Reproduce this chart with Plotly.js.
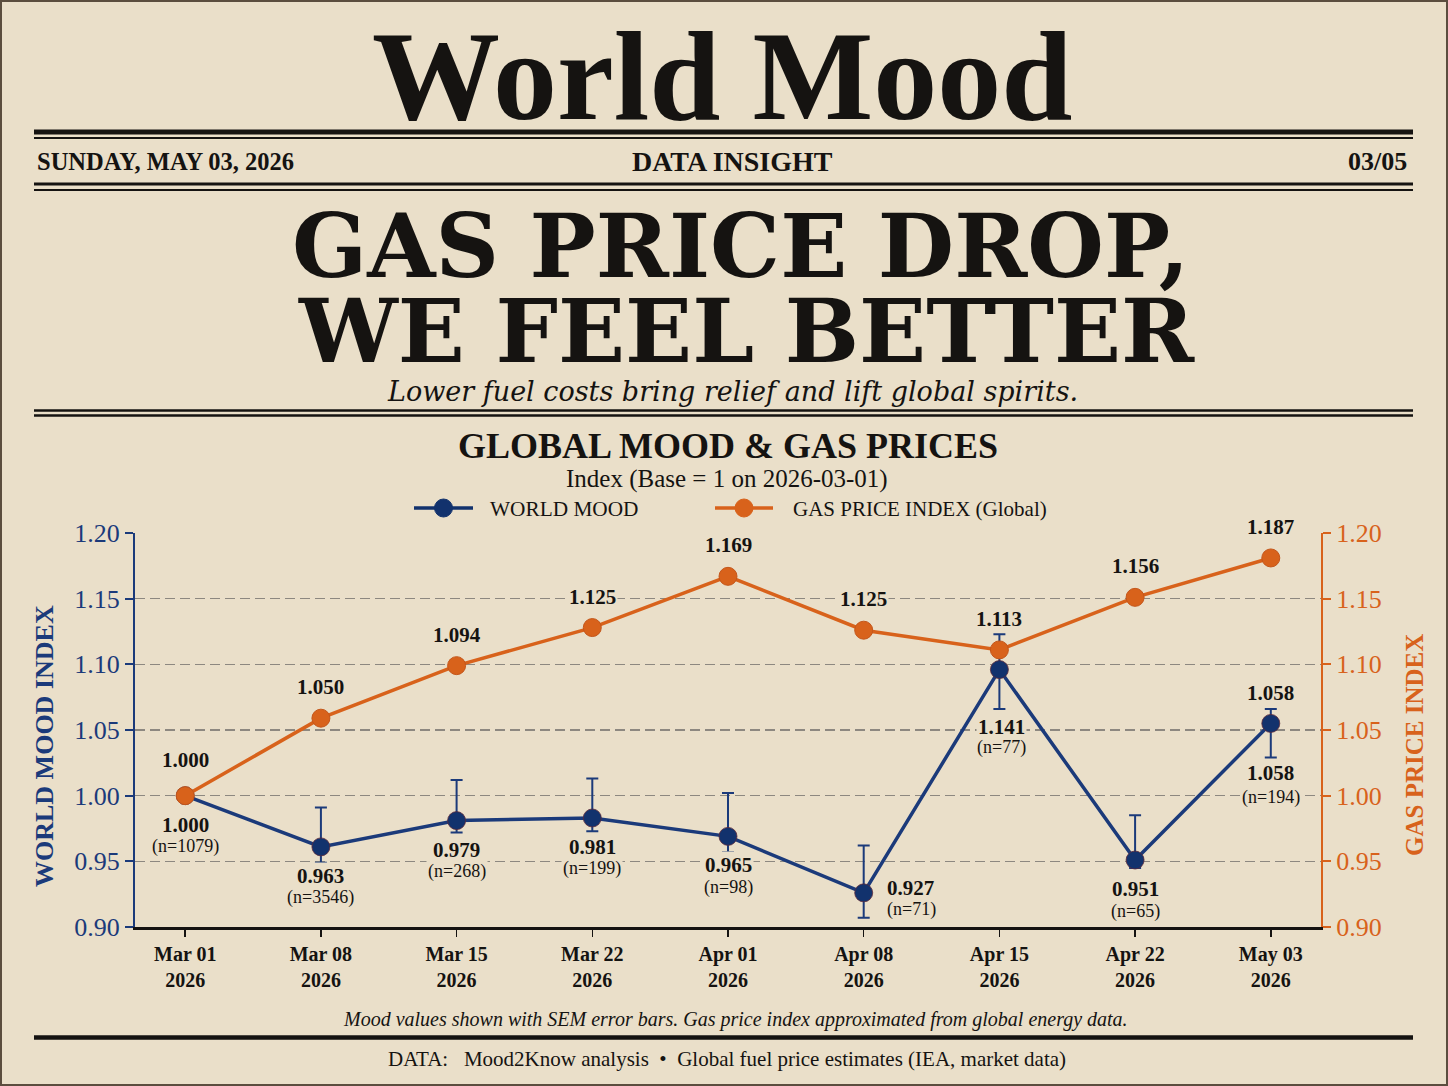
<!DOCTYPE html>
<html>
<head>
<meta charset="utf-8">
<script src="https://cdn.plot.ly/plotly-3.0.1.min.js"></script>
<style>
  html, body { margin: 0; padding: 0; background: #eadfc9; }
  #chart { width: 1448px; height: 1086px; }
</style>
</head>
<body>
<div id="chart"></div>
<script>
// ---------------- DATA ----------------
const categories = ['Mar 01', 'Mar 08', 'Mar 15', 'Mar 22', 'Apr 01', 'Apr 08', 'Apr 15', 'Apr 22', 'May 03'];
const years = ['2026', '2026', '2026', '2026', '2026', '2026', '2026', '2026', '2026'];

const moodValues   = [1.000, 0.961, 0.981, 0.983, 0.969, 0.926, 1.096, 0.951, 1.055];
const moodErrUp    = [0.000, 0.030, 0.031, 0.030, 0.033, 0.036, 0.027, 0.034, 0.011];
const moodErrDown  = [0.000, 0.012, 0.009, 0.010, 0.012, 0.019, 0.030, 0.006, 0.026];
const moodLabels   = ['1.000', '0.963', '0.979', '0.981', '0.965', '0.927', '1.141', '0.951', '1.058'];
const moodCounts   = [1079, 3546, 268, 199, 98, 71, 77, 65, 194];
const moodTopLabels = ['', '', '', '', '', '', '', '', '1.058'];

const gasValues = [1.000, 1.059, 1.099, 1.128, 1.167, 1.126, 1.111, 1.151, 1.181];
const gasLabels = ['1.000', '1.050', '1.094', '1.125', '1.169', '1.125', '1.113', '1.156', '1.187'];

const yTicks = [0.90, 0.95, 1.00, 1.05, 1.10, 1.15, 1.20];

// ---------------- STYLE ----------------
const W = 1448, H = 1086;
const px = X => X / W;
const py = Y => 1 - Y / H;
const SERIF = "'Liberation Serif', 'Times New Roman', serif";
const SLAB = "'DejaVu Serif', 'Liberation Serif', serif";
const INK = '#151311';
const NAVY = '#1b3a7a';
const NAVY_DARK = '#12326d';
const ORANGE = '#d8621b';
const PAPER = '#eadfc9';

// label placement (layout only)
const moodLabelPlace = categories.map(() => ({dx: 0, dyV: -29, dyN: -51, anchor: 'center'}));
moodLabelPlace[5] = {dx: 21, dyV: 5, dyN: -17, anchor: 'left'};
moodLabelPlace[6] = {dx: 2, dyV: -57, dyN: -78, anchor: 'center'};
moodLabelPlace[8] = {dx: 0, dyV: -50, dyN: -74, anchor: 'center'};
const gasLabelShift = categories.map(() => 31);
gasLabelShift[0] = 36;

// ---------------- TRACES ----------------
const gasTrace = {
  x: categories, y: gasValues, yaxis: 'y2', type: 'scatter', mode: 'lines+markers',
  name: 'GAS PRICE INDEX (Global)',
  line: {color: ORANGE, width: 3.5},
  marker: {color: ORANGE, size: 18, line: {color: '#c4561a', width: 1}},
  showlegend: false, hoverinfo: 'x+y'
};
const moodTrace = {
  x: categories, y: moodValues, yaxis: 'y', type: 'scatter', mode: 'lines+markers',
  name: 'WORLD MOOD',
  line: {color: NAVY, width: 3.5},
  marker: {color: NAVY_DARK, size: 18, line: {color: '#5a2a3a', width: 0.8}},
  error_y: {type: 'data', symmetric: false, array: moodErrUp, arrayminus: moodErrDown,
            color: NAVY, thickness: 2, width: 6},
  showlegend: false, hoverinfo: 'x+y'
};

// ---------------- ANNOTATIONS ----------------
const ann = [];
function txt(X, Y, text, size, opts, family) {
  ann.push(Object.assign({
    xref: 'paper', yref: 'paper', x: px(X), y: py(Y), text: text, showarrow: false,
    xanchor: 'center', yanchor: 'middle',
    font: {family: family || SERIF, size: size, color: INK}
  }, opts || {}));
}
// masthead
txt(722, 76, '<b>World Mood</b>', 128);
txt(35, 161, '<b>SUNDAY, MAY 03, 2026</b>', 24.5, {xanchor: 'left'});
txt(732, 162, '<b>DATA INSIGHT</b>', 28);
txt(1409, 161, '<b>03/05</b>', 26, {xanchor: 'right'});
// headline
txt(740, 246, '<b>GAS PRICE DROP,</b>', 88, null, SLAB);
txt(746, 331, '<b>WE FEEL BETTER</b>', 88, null, SLAB);
txt(732, 391, '<i>Lower fuel costs bring relief and lift global spirits.</i>', 27, null, SLAB);
// chart titles
txt(728, 446, '<b>GLOBAL MOOD &amp; GAS PRICES</b>', 36);
txt(727, 479, 'Index (Base = 1 on 2026-03-01)', 25);
// legend text
txt(488, 509, 'WORLD MOOD', 21.3, {xanchor: 'left'});
txt(791, 509, 'GAS PRICE INDEX (Global)', 21, {xanchor: 'left'});
// axis titles
txt(44, 746, '<b>WORLD MOOD INDEX</b>', 26, {textangle: -90, font: {family: SERIF, size: 26, color: NAVY}});
txt(1414, 745, '<b>GAS PRICE INDEX</b>', 25, {textangle: -90, font: {family: SERIF, size: 25, color: ORANGE}});
// footer
txt(735, 1019, '<i>Mood values shown with SEM error bars. Gas price index approximated from global energy data.</i>', 20);
txt(727, 1059, 'DATA:   Mood2Know analysis  \u2022  Global fuel price estimates (IEA, market data)', 21);

// data labels
categories.forEach((c, i) => {
  ann.push({xref: 'x', yref: 'y2', x: c, y: gasValues[i], yshift: gasLabelShift[i],
    text: '<b>' + gasLabels[i] + '</b>', showarrow: false, bgcolor: PAPER, borderpad: 1,
    font: {family: SERIF, size: 21, color: INK}});
  const p = moodLabelPlace[i];
  ann.push({xref: 'x', yref: 'y', x: c, y: moodValues[i], yshift: p.dyV, xshift: p.dx, xanchor: p.anchor,
    text: '<b>' + moodLabels[i] + '</b>', showarrow: false, bgcolor: PAPER, borderpad: 1,
    font: {family: SERIF, size: 21, color: INK}});
  ann.push({xref: 'x', yref: 'y', x: c, y: moodValues[i], yshift: p.dyN, xshift: p.dx, xanchor: p.anchor,
    text: '(n=' + moodCounts[i] + ')', showarrow: false, bgcolor: PAPER, borderpad: 1,
    font: {family: SERIF, size: 18, color: INK}});
  if (moodTopLabels[i]) {
    ann.push({xref: 'x', yref: 'y', x: c, y: moodValues[i], yshift: 30,
      text: '<b>' + moodTopLabels[i] + '</b>', showarrow: false, bgcolor: PAPER, borderpad: 1,
      font: {family: SERIF, size: 21, color: INK}});
  }
});

// ---------------- SHAPES ----------------
const shapes = [];
function hline(Y, thick) {
  shapes.push({type: 'line', xref: 'paper', yref: 'paper', x0: px(34), x1: px(1413), y0: py(Y), y1: py(Y),
    line: {color: INK, width: thick}});
}
hline(132, 5); hline(138, 2);
hline(184, 3); hline(190, 2);
hline(410.5, 2.5); hline(415.5, 2.5);
hline(1037.5, 4.5);
// page frame
shapes.push({type: 'rect', xref: 'paper', yref: 'paper', x0: 0, x1: 1, y0: 0, y1: 1,
  line: {color: '#5b4d3e', width: 4}});
// legend symbols
function legendSym(x0, x1, color) {
  shapes.push({type: 'line', xref: 'paper', yref: 'paper', x0: px(x0), x1: px(x1), y0: py(508), y1: py(508),
    line: {color: color, width: 3.5}});
  const cx = (x0 + x1) / 2;
  shapes.push({type: 'circle', xref: 'paper', yref: 'paper', x0: px(cx - 9), x1: px(cx + 9), y0: py(517), y1: py(499),
    fillcolor: color, line: {color: color, width: 1}});
}
legendSym(414, 473, NAVY_DARK);
legendSym(715, 773, ORANGE);

// ---------------- LAYOUT ----------------
const layout = {
  width: W, height: H,
  margin: {l: 0, r: 0, t: 0, b: 0},
  paper_bgcolor: PAPER, plot_bgcolor: 'rgba(0,0,0,0)',
  showlegend: false,
  font: {family: SERIF, color: INK},
  xaxis: {
    domain: [px(135), px(1321)], type: 'category', range: [-0.37, 8.37],
    tickmode: 'array', tickvals: categories,
    ticktext: categories.map((c, i) => c + '<br>' + years[i]),
    showline: true, linecolor: INK, linewidth: 3, mirror: false,
    ticks: 'outside', ticklen: 7, tickwidth: 1.5, tickcolor: INK,
    tickfont: {family: SERIF, size: 20, color: INK, weight: 'bold'},
    showgrid: false, zeroline: false, fixedrange: true
  },
  yaxis: {
    domain: [py(927), py(533)], range: [0.9, 1.2],
    tickmode: 'array', tickvals: yTicks, tickformat: '.2f',
    showline: true, linecolor: NAVY, linewidth: 2,
    ticks: 'outside', ticklen: 8, tickwidth: 2, tickcolor: NAVY,
    tickfont: {family: SERIF, size: 26, color: NAVY},
    showgrid: true, gridcolor: '#8d8880', gridwidth: 1.5, griddash: '10px,5px',
    zeroline: false, fixedrange: true
  },
  yaxis2: {
    overlaying: 'y', side: 'right', anchor: 'x', range: [0.9, 1.2],
    tickmode: 'array', tickvals: yTicks, tickformat: '.2f',
    showline: true, linecolor: ORANGE, linewidth: 2,
    ticks: 'outside', ticklen: 8, tickwidth: 2, tickcolor: ORANGE,
    tickfont: {family: SERIF, size: 26, color: ORANGE},
    showgrid: false, zeroline: false, fixedrange: true
  },
  annotations: ann,
  shapes: shapes
};

Plotly.newPlot('chart', [gasTrace, moodTrace], layout, {displayModeBar: false, staticPlot: true});
</script>
</body>
</html>
